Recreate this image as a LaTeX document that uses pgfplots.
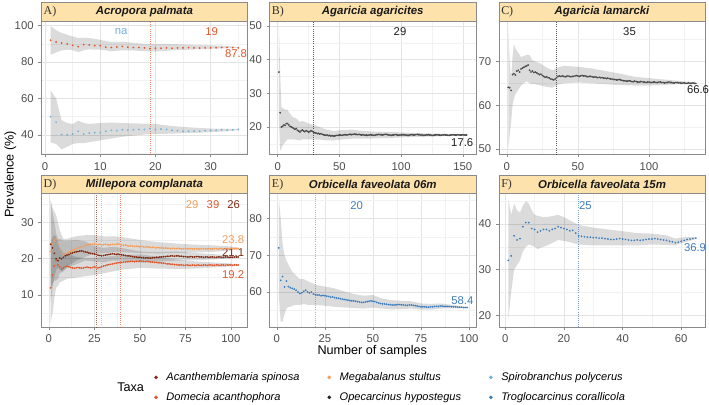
\documentclass[border=0pt]{standalone}
\usepackage{fontspec}
\setmainfont{Liberation Sans}
\newfontfamily\tagfont{Liberation Serif}
\usepackage{pgfplots}
\pgfplotsset{compat=1.18}
\usepackage{pgfplotstable}
\usepgfplotslibrary{fillbetween}

\definecolor{stripfill}{HTML}{FDE2AC}
\definecolor{framegrey}{HTML}{8A8A8A}
\definecolor{gridmaj}{HTML}{E4E4E4}
\definecolor{gridmin}{HTML}{F2F2F2}
\definecolor{ticktext}{HTML}{4D4D4D}
\definecolor{tagcol}{HTML}{333333}
\definecolor{titlecol}{HTML}{1A1A1A}
\definecolor{cAcan}{HTML}{7F2A14}
\definecolor{cDome}{HTML}{E0572B}
\definecolor{cMega}{HTML}{F59D5B}
\definecolor{cOpec}{HTML}{1E1E1E}
\definecolor{cSpir}{HTML}{6FB2DA}
\definecolor{cTrog}{HTML}{3C7EBF}

\pgfplotsset{
  panel/.style={
    scale only axis, width=155.25pt, height=100.5pt, anchor=north west,
    axis line style={draw=framegrey, line width=0.5pt},
    grid=both,
    major grid style={draw=gridmaj, line width=0.45pt},
    minor grid style={draw=gridmin, line width=0.35pt},
    tick align=outside, major tick length=2.2pt, minor tick length=0pt,
    tick style={draw=framegrey, line width=0.45pt},
    xtick pos=left, ytick pos=left,
    ticklabel style={font=\fontsize{8.5}{10}\selectfont, text=ticktext},
    /pgf/number format/assume math mode=true,
    clip=false,
  },
  dots/.style={only marks, mark=*, mark size=0.45pt, mark options={draw=none}},
  band/.style={draw=none, no markers, forget plot},
  ribbon/.style={fill=black, fill opacity=0.14, draw=none},
  thr/.style={no markers, dash pattern=on 0.4pt off 1.2pt, line width=0.4pt, draw opacity=0.7},
}
\tikzset{lab/.style={font=\fontsize{8.5}{10}\selectfont, inner sep=0pt}}

\newcommand{\strip}[2]{%
  \draw[draw=framegrey, line width=0.5pt, fill=stripfill] (rel axis cs:0,1) rectangle ([yshift=13.9pt]rel axis cs:1,1);
  \node[anchor=west, inner sep=0pt, font=\tagfont\fontsize{9}{10}\selectfont, text=tagcol] at ([xshift=1.6pt,yshift=6.95pt]rel axis cs:0,1) {#1};
  \node[inner sep=0pt, font=\bfseries\itshape\fontsize{8.6}{10}\selectfont, text=titlecol] at ([yshift=6.95pt]rel axis cs:0.5,1) {#2};
}

% ---------- A) Acropora palmata ----------
\pgfplotstableread[row sep=\\]{
x y\\
1 92.0\\ 2 91.0\\ 3 90.5\\ 4 90.0\\ 5 89.2\\ 6 88.5\\ 7 89.6\\ 8 89.4\\ 9 89.0\\ 10 89.0\\
11 88.2\\ 12 88.0\\ 13 88.3\\ 14 88.6\\ 15 88.2\\ 16 88.0\\ 17 88.0\\ 18 87.8\\ 19 87.4\\ 20 87.6\\
21 87.6\\ 22 87.8\\ 23 87.6\\ 24 87.8\\ 25 87.8\\ 26 87.9\\ 27 87.8\\ 28 87.7\\ 29 87.8\\ 30 87.8\\
31 87.9\\ 32 88.0\\ 33 88.0\\ 34 88.0\\ 35 87.8\\
}\AdomeMean
\pgfplotstableread[row sep=\\]{
x lo hi\\
1 84.0 99.8\\ 2 85.3 97.5\\ 3 86.4 96.0\\ 4 86.8 95.0\\ 5 86.5 94.0\\ 6 85.5 93.2\\ 7 86.5 93.3\\
8 87.0 93.2\\ 9 86.8 92.8\\ 10 86.8 92.2\\ 12 86.0 91.0\\ 14 86.5 91.2\\ 16 86.4 90.6\\ 18 86.0 90.0\\
20 85.8 89.9\\ 22 86.2 90.0\\ 24 86.6 89.8\\ 26 86.8 89.6\\ 28 87.0 89.4\\ 30 87.3 89.2\\ 32 87.5 89.0\\
34 87.7 88.6\\ 35 87.8 88.2\\
}\AdomeBand
\pgfplotstableread[row sep=\\]{
x y\\
1 50.0\\ 2 47.0\\ 3 40.2\\ 4 40.0\\ 5 40.5\\ 6 42.0\\ 7 40.5\\ 8 41.0\\ 9 41.2\\ 10 41.2\\
11 42.0\\ 12 42.5\\ 13 42.3\\ 14 42.8\\ 15 42.6\\ 16 42.8\\ 17 43.0\\ 18 43.0\\ 19 43.4\\ 20 43.0\\
21 43.2\\ 22 43.0\\ 23 42.5\\ 24 42.3\\ 25 42.0\\ 26 42.0\\ 27 42.1\\ 28 42.0\\ 29 42.3\\ 30 42.4\\
31 42.5\\ 32 42.8\\ 33 42.6\\ 34 42.8\\ 35 43.0\\
}\AspirMean
\pgfplotstableread[row sep=\\]{
x lo hi\\
1 35.8 64.5\\ 2 35.0 60.0\\ 3 32.0 48.0\\ 4 33.5 46.5\\ 5 35.0 46.0\\ 6 35.5 47.8\\ 7 35.5 46.5\\
8 36.0 46.0\\ 10 37.0 46.5\\ 12 38.0 46.8\\ 14 39.0 46.5\\ 16 39.6 46.3\\ 18 40.2 46.2\\ 20 40.5 46.0\\
22 40.6 45.2\\ 24 40.8 44.6\\ 26 41.0 44.2\\ 28 41.2 43.8\\ 30 41.5 43.5\\ 32 41.8 43.4\\ 34 42.2 43.2\\
35 42.6 43.2\\
}\AspirBand

% ---------- B) Agaricia agaricites ----------
\pgfplotstableread[row sep=\\]{
x y\\
1 36.3\\ 2 24.2\\ 3 20.0\\ 4 20.2\\ 5 20.6\\ 6 20.5\\ 7 21.0\\ 8 21.0\\ 9 20.6\\ 10 20.2\\
11 20.0\\ 12 19.8\\ 13 19.6\\ 14 19.3\\ 15 19.5\\ 16 19.0\\ 17 18.8\\ 18 18.5\\ 19 18.9\\ 20 19.1\\
21 18.8\\ 22 18.6\\ 23 18.9\\ 24 18.7\\ 25 18.5\\ 26 18.6\\ 27 18.9\\ 28 18.7\\ 29 18.5\\ 30 18.3\\
31 18.2\\ 32 18.0\\ 33 18.1\\ 34 17.9\\ 35 18.0\\ 36 17.8\\ 37 17.7\\ 38 17.6\\ 39 17.5\\ 40 17.6\\
41 17.4\\ 42 17.5\\ 43 17.3\\ 44 17.4\\ 45 17.3\\ 46 17.3\\ 47 17.4\\ 48 17.5\\ 49 17.5\\ 50 17.6\\
51 17.6\\ 52 17.5\\ 53 17.6\\ 54 17.7\\ 55 17.7\\ 56 17.6\\ 57 17.7\\ 58 17.8\\ 59 17.8\\ 60 17.7\\
61 17.8\\ 62 17.9\\ 63 17.8\\ 64 17.8\\ 65 17.7\\ 66 17.8\\ 67 17.7\\ 68 17.6\\ 69 17.7\\ 70 17.6\\
71 17.5\\ 72 17.6\\ 73 17.5\\ 74 17.6\\ 75 17.7\\ 76 17.6\\ 77 17.6\\ 78 17.5\\ 79 17.6\\ 80 17.7\\
81 17.7\\ 82 17.8\\ 83 17.7\\ 84 17.7\\ 85 17.6\\ 86 17.7\\ 87 17.8\\ 88 17.8\\ 89 17.7\\ 90 17.6\\
91 17.6\\ 92 17.5\\ 93 17.6\\ 94 17.6\\ 95 17.7\\ 96 17.7\\ 97 17.6\\ 98 17.5\\ 99 17.6\\ 100 17.6\\
101 17.7\\ 102 17.7\\ 103 17.6\\ 104 17.6\\ 105 17.5\\ 106 17.5\\ 107 17.6\\ 108 17.7\\ 109 17.7\\ 110 17.6\\
111 17.6\\ 112 17.7\\ 113 17.8\\ 114 17.7\\ 115 17.7\\ 116 17.6\\ 117 17.6\\ 118 17.5\\ 119 17.5\\ 120 17.6\\
121 17.6\\ 122 17.7\\ 123 17.6\\ 124 17.6\\ 125 17.5\\ 126 17.5\\ 127 17.6\\ 128 17.6\\ 129 17.7\\ 130 17.6\\
131 17.6\\ 132 17.5\\ 133 17.6\\ 134 17.6\\ 135 17.7\\ 136 17.6\\ 137 17.6\\ 138 17.5\\ 139 17.5\\ 140 17.6\\
141 17.6\\ 142 17.7\\ 143 17.6\\ 144 17.6\\ 145 17.6\\ 146 17.7\\ 147 17.6\\ 148 17.6\\ 149 17.6\\ 150 17.7\\
151 17.6\\ 152 17.6\\ 153 17.6\\
}\BMean
\pgfplotstableread[row sep=\\]{
x lo hi\\
1 22.0 50.0\\ 2 13.0 36.0\\ 3 13.5 26.0\\ 4 14.5 25.5\\ 5 15.0 25.5\\ 6 15.5 25.0\\ 7 16.0 25.2\\
8 16.3 25.0\\ 10 16.3 24.0\\ 12 16.3 23.0\\ 15 16.2 22.5\\ 18 16.0 21.5\\ 20 16.3 21.8\\ 25 16.3 21.0\\
30 16.3 20.5\\ 35 16.2 19.8\\ 40 16.0 19.2\\ 45 16.0 18.8\\ 50 16.2 19.0\\ 60 16.5 19.2\\ 70 16.5 18.8\\
80 16.6 18.6\\ 90 16.7 18.5\\ 100 16.9 18.4\\ 110 17.0 18.2\\ 120 17.1 18.1\\ 130 17.2 18.0\\
140 17.4 17.9\\ 150 17.5 17.8\\ 153 17.55 17.7\\
}\BBand

% ---------- C) Agaricia lamarcki ----------
\pgfplotstableread[row sep=\\]{
x y\\
1 64.1\\ 2 64.0\\ 3 63.4\\ 4 67.0\\ 5 67.2\\ 6 66.9\\ 7 67.8\\ 8 68.0\\ 9 67.6\\ 10 68.3\\
11 68.5\\ 12 68.7\\ 13 68.9\\ 14 69.0\\ 15 69.2\\ 16 68.0\\ 17 67.6\\ 18 67.8\\ 19 67.5\\ 20 67.6\\
21 67.4\\ 22 67.2\\ 23 67.0\\ 24 67.1\\ 25 66.8\\ 26 66.6\\ 27 66.4\\ 28 66.5\\ 29 66.3\\ 30 66.2\\
31 66.0\\ 32 65.9\\ 33 65.8\\ 34 66.0\\ 35 66.3\\ 36 66.6\\ 37 66.7\\ 38 66.6\\ 39 66.7\\ 40 66.6\\
41 66.5\\ 42 66.6\\ 43 66.7\\ 44 66.6\\ 45 66.5\\ 46 66.6\\ 47 66.6\\ 48 66.7\\ 49 66.8\\ 50 66.7\\
51 66.6\\ 52 66.7\\ 53 66.8\\ 54 66.7\\ 55 66.7\\ 56 66.6\\ 57 66.5\\ 58 66.6\\ 59 66.6\\ 60 66.5\\
61 66.4\\ 62 66.5\\ 63 66.4\\ 64 66.3\\ 65 66.4\\ 66 66.3\\ 67 66.3\\ 68 66.2\\ 69 66.2\\ 70 66.1\\
71 66.2\\ 72 66.1\\ 73 66.0\\ 74 66.0\\ 75 65.9\\ 76 65.9\\ 77 65.8\\ 78 65.8\\ 79 65.9\\ 80 65.8\\
81 65.7\\ 82 65.6\\ 83 65.6\\ 84 65.5\\ 85 65.5\\ 86 65.6\\ 87 65.5\\ 88 65.4\\ 89 65.4\\ 90 65.5\\
91 65.4\\ 92 65.3\\ 93 65.3\\ 94 65.4\\ 95 65.4\\ 96 65.3\\ 97 65.3\\ 98 65.2\\ 99 65.3\\ 100 65.3\\
101 65.2\\ 102 65.2\\ 103 65.3\\ 104 65.3\\ 105 65.2\\ 106 65.2\\ 107 65.3\\ 108 65.3\\ 109 65.2\\ 110 65.2\\
111 65.1\\ 112 65.2\\ 113 65.2\\ 114 65.3\\ 115 65.2\\ 116 65.2\\ 117 65.1\\ 118 65.1\\ 119 65.2\\ 120 65.2\\
121 65.1\\ 122 65.1\\ 123 65.0\\ 124 65.1\\ 125 65.1\\ 126 65.0\\ 127 65.0\\ 128 65.1\\ 129 65.0\\ 130 65.0\\
131 65.1\\ 132 65.0\\ 133 65.0\\
}\CMean
\pgfplotstableread[row sep=\\]{
x lo hi\\
1 50.0 77.8\\ 2 53.0 70.0\\ 3 56.0 66.0\\ 4 60.0 71.0\\ 5 61.5 74.0\\ 6 62.5 73.0\\ 8 63.5 72.0\\
10 64.5 71.0\\ 12 65.0 71.3\\ 14 65.5 71.5\\ 16 65.0 71.5\\ 18 64.8 70.3\\ 20 64.8 70.0\\ 24 64.5 69.5\\
28 64.2 68.6\\ 32 64.0 68.0\\ 36 64.7 68.6\\ 40 65.0 69.0\\ 50 65.2 68.8\\ 60 65.0 68.4\\ 70 64.8 67.8\\
80 64.6 67.2\\ 90 64.5 66.5\\ 100 64.5 66.2\\ 110 64.6 65.9\\ 120 64.8 65.6\\ 130 64.9 65.3\\ 133 64.95 65.1\\
}\CBand

% ---------- D) Millepora complanata ----------
\pgfplotstableread[row sep=\\]{
x y\\
1 22.0\\ 2 24.0\\ 3 25.0\\ 4 25.5\\ 5 24.2\\ 6 22.5\\ 7 21.5\\ 8 21.0\\ 9 21.2\\ 10 21.6\\
11 21.8\\ 12 22.0\\ 13 22.3\\ 14 22.5\\ 15 22.8\\ 16 23.0\\ 17 23.1\\ 18 23.3\\ 19 23.4\\ 20 23.6\\
21 23.8\\ 22 23.9\\ 23 24.0\\ 24 24.0\\ 25 24.1\\ 26 24.0\\ 27 23.9\\ 28 24.0\\ 29 23.8\\ 30 23.9\\
31 24.0\\ 32 23.9\\ 33 23.8\\ 34 23.9\\ 35 24.0\\ 36 23.9\\ 37 24.0\\ 38 24.1\\ 39 24.0\\ 40 23.8\\
41 23.7\\ 42 23.8\\ 43 23.6\\ 44 23.5\\ 45 23.6\\ 46 23.5\\ 47 23.4\\ 48 23.5\\ 49 23.4\\ 50 23.3\\
51 23.4\\ 52 23.3\\ 53 23.2\\ 54 23.3\\ 55 23.2\\ 56 23.1\\ 57 23.2\\ 58 23.1\\ 59 23.0\\ 60 23.1\\
61 23.0\\ 62 23.0\\ 63 22.9\\ 64 23.0\\ 65 22.9\\ 66 22.9\\ 67 22.8\\ 68 22.9\\ 69 22.8\\ 70 22.8\\
71 22.9\\ 72 22.8\\ 73 22.7\\ 74 22.8\\ 75 22.8\\ 76 22.7\\ 77 22.8\\ 78 22.8\\ 79 22.7\\ 80 22.7\\
81 22.8\\ 82 22.7\\ 83 22.7\\ 84 22.8\\ 85 22.8\\ 86 22.7\\ 87 22.7\\ 88 22.8\\ 89 22.7\\ 90 22.7\\
91 22.8\\ 92 22.8\\ 93 22.7\\ 94 22.8\\ 95 22.8\\ 96 22.7\\ 97 22.8\\ 98 22.8\\ 99 22.8\\ 100 22.9\\
101 22.8\\ 102 22.8\\ 103 22.8\\ 104 22.8\\
}\DmegaMean
\pgfplotstableread[row sep=\\]{
x lo hi\\
1 8.0 36.0\\ 2 12.0 34.0\\ 3 15.0 33.0\\ 4 17.0 32.0\\ 5 17.5 30.0\\ 6 17.0 28.0\\ 7 16.5 26.5\\
8 17.0 25.5\\ 10 17.8 25.5\\ 12 18.5 25.8\\ 15 19.5 26.2\\ 20 20.5 26.5\\ 25 21.5 26.5\\ 30 21.5 26.2\\
35 21.8 26.2\\ 40 21.8 26.0\\ 50 21.6 25.2\\ 60 21.5 24.6\\ 70 21.6 24.2\\ 80 21.7 23.9\\ 90 21.9 23.7\\
100 22.3 23.4\\ 104 22.5 23.1\\
}\DmegaBand
\pgfplotstableread[row sep=\\]{
x y\\
1 24.0\\ 2 23.0\\ 3 21.5\\ 4 20.0\\ 5 19.5\\ 6 20.2\\ 7 20.0\\ 8 20.4\\ 9 20.8\\ 10 21.0\\
11 21.2\\ 12 21.5\\ 13 21.6\\ 14 21.8\\ 15 21.9\\ 16 22.0\\ 17 22.1\\ 18 22.2\\ 19 22.0\\ 20 21.9\\
21 21.8\\ 22 21.6\\ 23 21.5\\ 24 21.4\\ 25 21.3\\ 26 21.2\\ 27 21.0\\ 28 20.9\\ 29 20.8\\ 30 20.9\\
31 21.0\\ 32 21.1\\ 33 21.2\\ 34 21.3\\ 35 21.4\\ 36 21.3\\ 37 21.2\\ 38 21.3\\ 39 21.2\\ 40 21.1\\
41 21.0\\ 42 20.9\\ 43 20.8\\ 44 20.8\\ 45 20.7\\ 46 20.6\\ 47 20.5\\ 48 20.5\\ 49 20.4\\ 50 20.4\\
51 20.3\\ 52 20.3\\ 53 20.2\\ 54 20.3\\ 55 20.2\\ 56 20.2\\ 57 20.3\\ 58 20.3\\ 59 20.4\\ 60 20.4\\
61 20.5\\ 62 20.5\\ 63 20.6\\ 64 20.6\\ 65 20.7\\ 66 20.7\\ 67 20.8\\ 68 20.8\\ 69 20.7\\ 70 20.8\\
71 20.8\\ 72 20.7\\ 73 20.7\\ 74 20.6\\ 75 20.6\\ 76 20.5\\ 77 20.5\\ 78 20.6\\ 79 20.5\\ 80 20.5\\
81 20.6\\ 82 20.6\\ 83 20.5\\ 84 20.5\\ 85 20.4\\ 86 20.5\\ 87 20.5\\ 88 20.4\\ 89 20.5\\ 90 20.5\\
91 20.4\\ 92 20.4\\ 93 20.5\\ 94 20.5\\ 95 20.4\\ 96 20.4\\ 97 20.5\\ 98 20.5\\ 99 20.4\\ 100 20.4\\
101 20.4\\ 102 20.5\\ 103 20.5\\ 104 20.5\\
}\DacanMean
\pgfplotstableread[row sep=\\]{
x lo hi\\
1 12.0 36.0\\ 2 13.0 33.0\\ 3 14.0 30.0\\ 4 14.0 27.0\\ 5 14.5 25.5\\ 6 16.0 25.5\\ 8 16.5 25.0\\
10 17.5 25.0\\ 15 18.5 25.2\\ 20 19.5 24.8\\ 25 19.3 23.5\\ 30 19.0 23.0\\ 35 19.5 23.3\\ 40 19.5 23.0\\
50 19.0 22.0\\ 60 19.2 21.8\\ 70 19.5 22.0\\ 80 19.6 21.6\\ 90 19.8 21.3\\ 100 20.1 20.9\\ 104 20.3 20.7\\
}\DacanBand
\pgfplotstableread[row sep=\\]{
x y\\
1 12.0\\ 2 15.5\\ 3 18.0\\ 4 19.5\\ 5 18.3\\ 6 17.8\\ 7 17.2\\ 8 17.5\\ 9 17.8\\ 10 18.0\\
11 17.8\\ 12 17.6\\ 13 17.5\\ 14 17.4\\ 15 17.5\\ 16 17.6\\ 17 17.5\\ 18 17.4\\ 19 17.5\\ 20 17.6\\
21 17.7\\ 22 17.6\\ 23 17.5\\ 24 17.6\\ 25 17.8\\ 26 17.6\\ 27 17.5\\ 28 17.6\\ 29 17.8\\ 30 18.0\\
31 18.1\\ 32 18.3\\ 33 18.4\\ 34 18.5\\ 35 18.6\\ 36 18.7\\ 37 18.8\\ 38 18.9\\ 39 19.0\\ 40 19.0\\
41 19.1\\ 42 19.1\\ 43 19.2\\ 44 19.2\\ 45 19.3\\ 46 19.3\\ 47 19.2\\ 48 19.3\\ 49 19.3\\ 50 19.4\\
51 19.3\\ 52 19.3\\ 53 19.2\\ 54 19.3\\ 55 19.2\\ 56 19.1\\ 57 19.1\\ 58 19.0\\ 59 19.0\\ 60 18.9\\
61 18.9\\ 62 18.8\\ 63 18.8\\ 64 18.7\\ 65 18.6\\ 66 18.6\\ 67 18.5\\ 68 18.5\\ 69 18.4\\ 70 18.4\\
71 18.3\\ 72 18.3\\ 73 18.3\\ 74 18.2\\ 75 18.2\\ 76 18.3\\ 77 18.2\\ 78 18.2\\ 79 18.3\\ 80 18.2\\
81 18.2\\ 82 18.3\\ 83 18.2\\ 84 18.2\\ 85 18.3\\ 86 18.3\\ 87 18.2\\ 88 18.3\\ 89 18.3\\ 90 18.2\\
91 18.2\\ 92 18.3\\ 93 18.3\\ 94 18.2\\ 95 18.3\\ 96 18.3\\ 97 18.2\\ 98 18.3\\ 99 18.3\\ 100 18.3\\
101 18.2\\ 102 18.3\\ 103 18.3\\ 104 18.3\\
}\DdomeMean
\pgfplotstableread[row sep=\\]{
x lo hi\\
1 2.5 24.0\\ 2 5.0 26.0\\ 3 9.0 26.5\\ 4 12.0 26.0\\ 5 12.5 24.5\\ 6 13.5 23.0\\ 8 14.0 21.5\\
10 14.5 21.5\\ 15 14.8 20.5\\ 20 15.2 20.2\\ 25 15.5 20.3\\ 30 16.0 20.5\\ 35 16.5 20.8\\ 40 17.0 21.0\\
50 17.5 21.2\\ 60 17.3 20.6\\ 70 17.2 19.8\\ 80 17.3 19.3\\ 90 17.6 19.0\\ 100 17.9 18.7\\ 104 18.1 18.5\\
}\DdomeBand

% ---------- E) Orbicella faveolata 06m ----------
\pgfplotstableread[row sep=\\]{
x y\\
1 72.0\\ 2 63.2\\ 3 64.2\\ 4 61.4\\ 5 63.0\\ 6 61.5\\ 7 61.2\\ 8 61.0\\ 9 60.8\\ 10 60.5\\
11 60.0\\ 12 59.6\\ 13 59.8\\ 14 60.2\\ 15 60.5\\ 16 60.0\\ 17 59.8\\ 18 60.0\\ 19 59.5\\ 20 59.3\\
21 59.2\\ 22 59.2\\ 23 59.0\\ 24 59.1\\ 25 59.0\\ 26 58.9\\ 27 58.8\\ 28 58.6\\ 29 58.7\\ 30 58.5\\
31 58.4\\ 32 58.3\\ 33 58.2\\ 34 58.1\\ 35 58.0\\ 36 57.9\\ 37 57.8\\ 38 57.7\\ 39 57.6\\ 40 57.6\\
41 57.5\\ 42 57.4\\ 43 57.3\\ 44 57.2\\ 45 57.2\\ 46 57.3\\ 47 57.4\\ 48 57.5\\ 49 57.6\\ 50 57.5\\
51 57.4\\ 52 57.2\\ 53 57.0\\ 54 56.9\\ 55 56.8\\ 56 56.8\\ 57 56.7\\ 58 56.6\\ 59 56.6\\ 60 56.5\\
61 56.5\\ 62 56.5\\ 63 56.6\\ 64 56.6\\ 65 56.5\\ 66 56.5\\ 67 56.4\\ 68 56.4\\ 69 56.5\\ 70 56.5\\
71 56.4\\ 72 56.3\\ 73 56.2\\ 74 56.1\\ 75 56.0\\ 76 56.0\\ 77 56.0\\ 78 55.9\\ 79 55.9\\ 80 56.0\\
81 56.0\\ 82 56.1\\ 83 56.1\\ 84 56.1\\ 85 56.2\\ 86 56.2\\ 87 56.1\\ 88 56.1\\ 89 56.1\\ 90 56.1\\
91 56.0\\ 92 56.0\\ 93 56.0\\ 94 55.9\\ 95 55.9\\ 96 55.9\\ 97 55.8\\ 98 55.8\\ 99 55.8\\
}\EMean
\pgfplotstableread[row sep=\\]{
x lo hi\\
1 59.0 85.5\\ 2 52.0 80.0\\ 3 52.0 73.0\\ 4 54.0 70.0\\ 5 55.5 68.5\\ 6 56.0 67.5\\ 7 56.0 66.5\\
8 56.3 65.5\\ 10 56.5 64.5\\ 12 56.5 63.5\\ 14 56.8 63.5\\ 16 56.5 63.0\\ 18 56.5 62.5\\ 20 56.5 62.0\\
25 56.3 61.5\\ 30 56.0 61.0\\ 35 55.8 60.2\\ 40 55.7 59.5\\ 45 55.5 59.0\\ 50 55.8 59.2\\ 55 55.5 58.2\\
60 55.3 57.8\\ 65 55.4 57.6\\ 70 55.5 57.5\\ 75 55.2 56.9\\ 80 55.2 56.8\\ 85 55.5 56.9\\ 90 55.6 56.6\\
95 55.6 56.2\\ 99 55.7 55.9\\
}\EBand

% ---------- F) Orbicella faveolata 15m ----------
\pgfplotstableread[row sep=\\]{
x y\\
1 32.0\\ 2 33.0\\ 3 37.4\\ 4 36.5\\ 5 36.8\\ 6 39.4\\ 7 40.3\\ 8 40.3\\ 9 39.0\\ 10 38.8\\
11 38.2\\ 12 38.5\\ 13 38.8\\ 14 38.8\\ 15 38.5\\ 16 38.8\\ 17 39.0\\ 18 39.4\\ 19 39.2\\ 20 39.0\\
21 38.8\\ 22 38.5\\ 23 38.6\\ 24 38.0\\ 25 37.4\\ 26 37.3\\ 27 37.2\\ 28 37.1\\ 29 37.1\\ 30 37.0\\
31 37.0\\ 32 36.9\\ 33 36.9\\ 34 36.8\\ 35 36.7\\ 36 36.6\\ 37 36.6\\ 38 36.7\\ 39 36.8\\ 40 36.7\\
41 36.6\\ 42 36.5\\ 43 36.4\\ 44 36.4\\ 45 36.5\\ 46 36.4\\ 47 36.5\\ 48 36.6\\ 49 36.7\\ 50 36.7\\
51 36.8\\ 52 36.7\\ 53 36.6\\ 54 36.5\\ 55 36.4\\ 56 36.2\\ 57 36.1\\ 58 35.9\\ 59 36.0\\ 60 36.2\\
61 36.4\\ 62 36.6\\ 63 36.7\\ 64 36.8\\ 65 36.9\\
}\FMean
\pgfplotstableread[row sep=\\]{
x lo hi\\
1 18.8 45.5\\ 2 25.0 42.0\\ 3 30.0 44.5\\ 4 31.0 43.0\\ 5 32.0 42.5\\ 6 34.0 44.0\\ 7 35.0 45.0\\
8 35.5 44.5\\ 9 35.3 43.0\\ 10 35.0 42.0\\ 11 34.5 41.8\\ 13 35.0 41.5\\ 15 35.5 41.6\\ 18 36.5 42.0\\
20 36.3 41.5\\ 22 36.0 40.8\\ 25 35.5 39.8\\ 30 35.3 39.2\\ 35 35.3 38.8\\ 40 35.3 38.4\\ 45 35.3 38.0\\
50 35.5 37.9\\ 55 35.4 37.5\\ 58 35.3 36.8\\ 60 35.8 37.0\\ 63 36.3 37.2\\ 65 36.7 37.1\\
}\FBand

\begin{document}
\begin{tikzpicture}
% page frame (invisible)
\path (0,0) rectangle (531.75pt,304.5pt);

% A
\begin{axis}[panel, at={(30.75pt,288.75pt)},
  xmin=-0.7, xmax=36.7, ymin=29.2, ymax=102.6,
  xtick={0,10,20,30}, minor xtick={5,15,25,35},
  ytick={40,60,80,100}, minor ytick={30,50,70,90}]
  \addplot[band, name path=a1hi] table[x=x,y=hi]{\AdomeBand};
  \addplot[band, name path=a1lo] table[x=x,y=lo]{\AdomeBand};
  \addplot[ribbon] fill between[of=a1hi and a1lo];
  \addplot[band, name path=a2hi] table[x=x,y=hi]{\AspirBand};
  \addplot[band, name path=a2lo] table[x=x,y=lo]{\AspirBand};
  \addplot[ribbon] fill between[of=a2hi and a2lo];
  \addplot[thr, cDome] coordinates {(19,29.2) (19,102.6)};
  \addplot[dots, cDome] table[x=x,y=y]{\AdomeMean};
  \addplot[dots, cSpir] table[x=x,y=y]{\AspirMean};
  \node[lab, text=cSpir] at (axis cs:13.8,96.7) {na};
  \node[lab, text=cDome] at (axis cs:30.2,96.7) {19};
  \node[lab, text=cDome] at (axis cs:34.6,84.4) {87.8};
  \strip{A)}{Acropora palmata}
\end{axis}

% B
\begin{axis}[panel, at={(202.5pt,288.75pt)},
  xmin=-6.6, xmax=160.6, ymin=11.8, ymax=51.5,
  xtick={0,50,100,150}, minor xtick={25,75,125},
  ytick={20,30,40,50}, minor ytick={15,25,35,45}]
  \addplot[band, name path=bhi] table[x=x,y=hi]{\BBand};
  \addplot[band, name path=blo] table[x=x,y=lo]{\BBand};
  \addplot[ribbon] fill between[of=bhi and blo];
  \addplot[thr, cOpec] coordinates {(29,11.8) (29,51.5)};
  \addplot[dots, cOpec!80!white] table[x=x,y=y]{\BMean};
  \node[lab, text=cOpec] at (axis cs:99.1,48.3) {29};
  \node[lab, text=cOpec] at (axis cs:149.5,15.4) {17.6};
  \strip{B)}{Agaricia agaricites}
\end{axis}

% C
\begin{axis}[panel, at={(375pt,288.75pt)},
  xmin=-5.6, xmax=139.6, ymin=48.7, ymax=79.3,
  xtick={0,50,100}, minor xtick={25,75,125},
  ytick={50,60,70}, minor ytick={55,65,75}]
  \addplot[band, name path=chi] table[x=x,y=hi]{\CBand};
  \addplot[band, name path=clo] table[x=x,y=lo]{\CBand};
  \addplot[ribbon] fill between[of=chi and clo];
  \addplot[thr, cOpec] coordinates {(35,48.7) (35,79.3)};
  \addplot[dots, cOpec!80!white] table[x=x,y=y]{\CMean};
  \node[lab, text=cOpec] at (axis cs:86.3,76.9) {35};
  \node[lab, text=cOpec] at (axis cs:134.5,63.5) {66.6};
  \strip{C)}{Agaricia lamarcki}
\end{axis}

% D
\begin{axis}[panel, at={(30.75pt,159pt)},
  xmin=-4.2, xmax=109.2, ymin=1.2, ymax=38,
  xtick={0,25,50,75,100}, minor xtick={12.5,37.5,62.5,87.5},
  ytick={10,20,30}, minor ytick={5,15,25,35}]
  \addplot[band, name path=d1hi] table[x=x,y=hi]{\DmegaBand};
  \addplot[band, name path=d1lo] table[x=x,y=lo]{\DmegaBand};
  \addplot[ribbon] fill between[of=d1hi and d1lo];
  \addplot[band, name path=d2hi] table[x=x,y=hi]{\DacanBand};
  \addplot[band, name path=d2lo] table[x=x,y=lo]{\DacanBand};
  \addplot[ribbon] fill between[of=d2hi and d2lo];
  \addplot[band, name path=d3hi] table[x=x,y=hi]{\DdomeBand};
  \addplot[band, name path=d3lo] table[x=x,y=lo]{\DdomeBand};
  \addplot[ribbon] fill between[of=d3hi and d3lo];
  \addplot[thr, cAcan] coordinates {(26,1.2) (26,38)};
  \addplot[thr, cMega] coordinates {(29,1.2) (29,38)};
  \addplot[thr, cDome] coordinates {(39,1.2) (39,38)};
  \addplot[dots, cMega] table[x=x,y=y]{\DmegaMean};
  \addplot[dots, cAcan] table[x=x,y=y]{\DacanMean};
  \addplot[dots, cDome] table[x=x,y=y]{\DdomeMean};
  \node[lab, text=cMega] at (axis cs:78.7,35.0) {29};
  \node[lab, text=cDome] at (axis cs:90.2,35.0) {39};
  \node[lab, text=cAcan] at (axis cs:101.5,35.0) {26};
  \node[lab, text=cMega] at (axis cs:101.2,25.4) {23.8};
  \node[lab, text=cAcan] at (axis cs:101.2,21.7) {21.1};
  \node[lab, text=cDome] at (axis cs:101.2,15.7) {19.2};
  \strip{D)}{Millepora complanata}
\end{axis}

% E (also carries the legend)
\begin{axis}[panel, at={(202.5pt,159pt)},
  xmin=-3.8, xmax=103.6, ymin=50.5, ymax=86.8,
  xtick={0,25,50,75,100}, minor xtick={12.5,37.5,62.5,87.5},
  ytick={60,70,80}, minor ytick={55,65,75,85},
  legend columns=3,
  legend cell align=left,
  legend image code/.code={\fill[#1] (0pt,0pt) circle (1.15pt);},
  legend style={at={(rel axis cs:-0.560,-0.4515)}, anchor=west,
    draw=none, fill=none, inner sep=0pt, row sep=3.5pt,
    font=\itshape\fontsize{8.3}{10}\selectfont,
    /tikz/every odd column/.append style={column sep=4.5pt},
    /tikz/every even column/.append style={column sep=19pt}}]
  \addlegendimage{color=cAcan}\addlegendentry{Acanthemblemaria spinosa}
  \addlegendimage{color=cMega}\addlegendentry{Megabalanus stultus}
  \addlegendimage{color=cSpir}\addlegendentry{Spirobranchus polycerus}
  \addlegendimage{color=cDome}\addlegendentry{Domecia acanthophora}
  \addlegendimage{color=cOpec}\addlegendentry{Opecarcinus hypostegus}
  \addlegendimage{color=cTrog}\addlegendentry{Troglocarcinus corallicola}
  \addplot[band, name path=ehi] table[x=x,y=hi]{\EBand};
  \addplot[band, name path=elo] table[x=x,y=lo]{\EBand};
  \addplot[ribbon] fill between[of=ehi and elo];
  \addplot[thr, cTrog!80!white] coordinates {(20,50.5) (20,86.8)};
  \addplot[dots, cTrog] table[x=x,y=y]{\EMean};
  \node[lab, text=cTrog] at (axis cs:41.5,83.6) {20};
  \node[lab, text=cTrog] at (axis cs:96.5,57.8) {58.4};
  \strip{E)}{Orbicella faveolata 06m}
\end{axis}

% F
\begin{axis}[panel, at={(375pt,159pt)},
  xmin=-2.2, xmax=68.2, ymin=17.4, ymax=46.7,
  xtick={0,20,40,60}, minor xtick={10,30,50},
  ytick={20,30,40}, minor ytick={25,35,45}]
  \addplot[band, name path=fhi] table[x=x,y=hi]{\FBand};
  \addplot[band, name path=flo] table[x=x,y=lo]{\FBand};
  \addplot[ribbon] fill between[of=fhi and flo];
  \addplot[thr, cTrog] coordinates {(25,17.4) (25,46.7)};
  \addplot[dots, cTrog] table[x=x,y=y]{\FMean};
  \node[lab, text=cTrog] at (axis cs:27.3,44.1) {25};
  \node[lab, text=cTrog] at (axis cs:64.7,34.8) {36.9};
  \strip{F)}{Orbicella faveolata 15m}
\end{axis}

% shared axis titles and legend title
\node[rotate=90, font=\fontsize{9.5}{11}\selectfont] at (7.5pt,173.25pt) {Prevalence (\%)};
\node[font=\fontsize{9.5}{11}\selectfont] at (279.75pt,40.5pt) {Number of samples};
\node[anchor=west, inner sep=0pt, font=\fontsize{9.5}{11}\selectfont] at (87.75pt,13.5pt) {Taxa};
\end{tikzpicture}
\end{document}
